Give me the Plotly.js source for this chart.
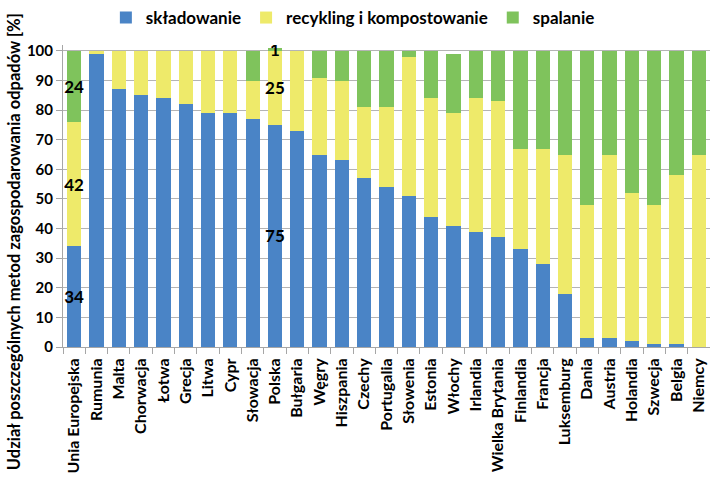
<!DOCTYPE html>
<html>
<head>
<meta charset="utf-8">
<script src="https://cdn.plot.ly/plotly-3.0.1.min.js"></script>
<style>
  html, body { margin: 0; padding: 0; background: #ffffff; }
  #chart { width: 710px; height: 477px; }
</style>
</head>
<body>
<div id="chart"></div>
<script>
// Kraje UE uszeregowane według udziału składowania
const kraje = ['Unia Europejska', 'Rumunia', 'Malta', 'Chorwacja', 'Łotwa', 'Grecja', 'Litwa', 'Cypr',
  'Słowacja', 'Polska', 'Bułgaria', 'Węgry', 'Hiszpania', 'Czechy', 'Portugalia', 'Słowenia',
  'Estonia', 'Włochy', 'Irlandia', 'Wielka Brytania', 'Finlandia', 'Francja', 'Luksemburg',
  'Dania', 'Austria', 'Holandia', 'Szwecja', 'Belgia', 'Niemcy'];

// Udział metod zagospodarowania odpadów [%]
const skladowanie = [34, 99, 87, 85, 84, 82, 79, 79, 77, 75, 73, 65, 63, 57, 54, 51, 44, 41, 39, 37, 33, 28, 18, 3, 3, 2, 1, 1, 0];
const recykling   = [42, 1, 13, 15, 16, 18, 21, 21, 13, 25, 27, 26, 27, 24, 27, 47, 40, 38, 45, 46, 34, 39, 47, 45, 62, 50, 47, 57, 65];
const spalanie    = [24, 0, 0, 0, 0, 0, 0, 0, 10, 1, 0, 9, 10, 19, 19, 2, 16, 20, 16, 17, 33, 33, 35, 52, 35, 48, 52, 42, 35];

// Słupki z podpisanymi wartościami
const podpisane = ['Unia Europejska', 'Polska'];

const yTicks = [0, 10, 20, 30, 40, 50, 60, 70, 80, 90, 100];

const FONT = 'Lato, "Open Sans", "DejaVu Sans", sans-serif';

function podpisy(values) {
  return values.map((v, i) => podpisane.includes(kraje[i]) ? String(v) : '');
}

function seria(name, values, color) {
  return {
    type: 'bar',
    name: name,
    x: kraje,
    y: values,
    marker: { color: color, line: { width: 0 } },
    text: podpisy(values),
    textposition: 'inside',
    insidetextanchor: 'middle',
    constraintext: 'none',
    textangle: 0,
    textfont: { family: FONT, size: 17, color: '#000000', weight: 'bold' },
    hoverinfo: 'x+y+name'
  };
}

const data = [
  seria('składowanie', skladowanie, '#4a84c6'),
  seria('recykling i kompostowanie', recykling, '#eeea6a'),
  seria('spalanie', spalanie, '#7fc35c')
];

const layout = {
  width: 710,
  height: 477,
  margin: { l: 63, r: 0, t: 45, b: 130 },
  paper_bgcolor: '#ffffff',
  plot_bgcolor: '#ffffff',
  barmode: 'stack',
  bargap: 0.36,
  font: { family: FONT, size: 14, color: '#000000' },
  showlegend: true,
  legend: {
    orientation: 'h',
    traceorder: 'normal',
    xref: 'container',
    yref: 'container',
    x: 0.497,
    xanchor: 'center',
    y: 1.0,
    yanchor: 'top',
    font: { family: FONT, size: 17, color: '#000000', weight: 'bold' },
    itemwidth: 30,
    tracegroupgap: 0
  },
  xaxis: {
    type: 'category',
    tickangle: -90,
    tickfont: { family: FONT, size: 16, color: '#000000', weight: 'bold' },
    ticklabelstandoff: 4,
    showline: true,
    linecolor: '#a6a6a6',
    linewidth: 1,
    ticks: 'outside',
    tickson: 'boundaries',
    ticklen: 6,
    tickcolor: '#a6a6a6',
    showgrid: false,
    fixedrange: true
  },
  yaxis: {
    range: [0, 102],
    tickvals: yTicks,
    ticktext: yTicks.map(String),
    tickfont: { family: FONT, size: 15, color: '#000000', weight: 'bold' },
    showline: true,
    linecolor: '#a6a6a6',
    linewidth: 1,
    ticks: 'outside',
    ticklen: 6,
    tickcolor: '#a6a6a6',
    showgrid: true,
    gridcolor: '#b4b4b4',
    gridwidth: 1,
    zeroline: false,
    fixedrange: true
  },
  annotations: [{
    text: 'Udział poszczególnych metod zagospodarowania odpadów [%]',
    xref: 'paper',
    yref: 'paper',
    x: -0.076,
    y: 0.35,
    xanchor: 'center',
    yanchor: 'middle',
    textangle: -90,
    showarrow: false,
    font: { family: FONT, size: 16.5, color: '#000000', weight: 'bold' }
  }]
};

Plotly.newPlot('chart', data, layout, { displayModeBar: false, staticPlot: true });
</script>
</body>
</html>
